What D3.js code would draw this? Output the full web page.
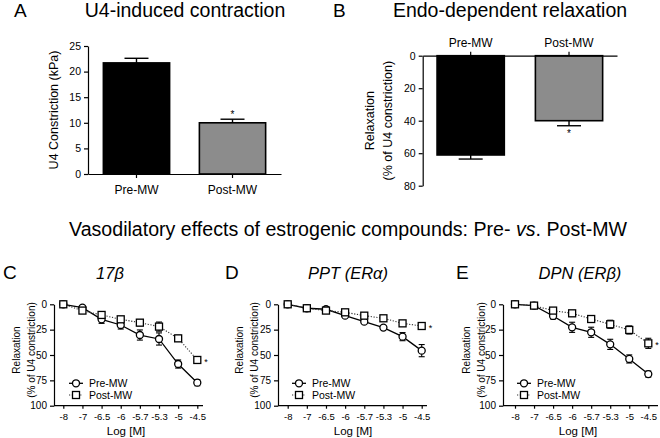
<!DOCTYPE html>
<html>
<head>
<meta charset="utf-8">
<script src="https://cdn.jsdelivr.net/npm/d3@7"></script>
<style>
  body { margin: 0; background: #fff; }
  text { font-family: Arial, Helvetica, "Liberation Sans", sans-serif; fill: #000; }
  .axis path, .axis line { stroke: #000; stroke-width: 1.2; }
</style>
</head>
<body>
<div id="chart"></div>
<script>
// bar panels
var groups = ["Pre-MW", "Post-MW"];
var contractionMean = [21.7, 10.0];
var contractionSem = [0.9, 0.7];
var relaxMean = [61.1, 40.0];
var relaxSem = [2.5, 3.1];

// concentration-response panels
var doses = ["-8", "-7", "-6.5", "-6", "-5.7", "-5.3", "-5", "-4.5"];
var relaxTicks = [0, 25, 50, 75, 100];
var e2Pre = [0, 3.3, 14.8, 20.4, 30.3, 34.2, 58.9, 77.3];
var e2PreErr = [0.5, 1.5, 4, 4, 5, 6, 4, 3];
var e2Post = [0, 6.2, 10.5, 14.8, 18.1, 22.0, 33.6, 54.9];
var e2PostErr = [0.5, 2, 2, 2, 3, 4.5, 3, 3];
var pptPre = [0, 3.9, 4.9, 11.2, 17.1, 23.0, 31.9, 45.7];
var pptPreErr = [0.5, 1, 1.5, 1.5, 1.5, 1.5, 4, 6];
var pptPost = [0, 3.9, 6.2, 7.9, 11.2, 13.8, 18.8, 21.4];
var pptPostErr = [0.5, 1, 1.5, 1.5, 1.5, 1.5, 2, 2.5];
var dpnPre = [0, 1.3, 11.5, 22.7, 27.6, 39.5, 53.9, 68.8];
var dpnPreErr = [0.5, 1, 3, 5, 5, 5, 4, 3];
var dpnPost = [0, 1.3, 6.2, 8.9, 14.5, 19.7, 25.3, 38.5];
var dpnPostErr = [0.5, 1, 2, 2, 3, 4, 4, 5];

var svg = d3.select("#chart").append("svg")
  .attr("width", 660)
  .attr("height", 438);

var barFill = ["#000", "#8c8c8c"];

// ---------- Panel A ----------
var yA = d3.scaleLinear().domain([0, 25]).range([174, 46]);
var xA = d3.scaleBand().domain(groups).range([88, 281]).paddingInner(0.31).paddingOuter(0.16);

svg.append("text").attr("x", 14).attr("y", 17).style("font-size", "19px").text("A");
svg.append("text").attr("x", 185).attr("y", 17).attr("text-anchor", "middle")
  .style("font-size", "19.5px").text("U4-induced contraction");

svg.selectAll(".barA")
  .data(groups)
  .enter()
  .append("rect")
  .attr("x", function(d) { return xA(d); })
  .attr("width", xA.bandwidth())
  .attr("y", function(d, i) { return yA(contractionMean[i]); })
  .attr("height", function(d, i) { return yA(0) - yA(contractionMean[i]); })
  .attr("fill", function(d, i) { return barFill[i]; })
  .attr("stroke", "#000")
  .attr("stroke-width", 1.6);

groups.forEach(function(g, i) {
  var cx = xA(g) + xA.bandwidth() / 2;
  var top = yA(contractionMean[i] + contractionSem[i]);
  svg.append("line").attr("x1", cx).attr("x2", cx)
    .attr("y1", yA(contractionMean[i])).attr("y2", top)
    .attr("stroke", "#000").attr("stroke-width", 1.4);
  svg.append("line").attr("x1", cx - 12).attr("x2", cx + 12)
    .attr("y1", top).attr("y2", top)
    .attr("stroke", "#000").attr("stroke-width", 1.4);
});
svg.append("text").attr("x", xA("Post-MW") + xA.bandwidth() / 2).attr("y", 117.5)
  .attr("text-anchor", "middle").style("font-size", "10px").text("*");

svg.append("g").attr("class", "axis")
  .attr("transform", "translate(88,0)")
  .call(d3.axisLeft(yA).tickValues([0, 5, 10, 15, 20, 25]).tickSize(4).tickSizeOuter(0).tickPadding(3))
  .selectAll("text").style("font-size", "10.5px");

svg.append("g").attr("class", "axis")
  .attr("transform", "translate(0,174)")
  .call(d3.axisBottom(xA).tickSize(4).tickSizeOuter(0).tickPadding(7.5))
  .selectAll("text").style("font-size", "12px");

svg.append("text")
  .attr("transform", "translate(57.5,110) rotate(-90)")
  .attr("text-anchor", "middle")
  .style("font-size", "12.5px")
  .text("U4 Constriction (kPa)");

// ---------- Panel B ----------
var yB = d3.scaleLinear().domain([0, 80]).range([55.7, 185.7]);
var xB = d3.scaleBand().domain(groups).range([422.7, 617]).paddingInner(0.316).paddingOuter(0.146);

svg.append("text").attr("x", 333).attr("y", 17).style("font-size", "19px").text("B");
svg.append("text").attr("x", 510).attr("y", 17).attr("text-anchor", "middle")
  .style("font-size", "19.5px").text("Endo-dependent relaxation");

svg.selectAll(".barB")
  .data(groups)
  .enter()
  .append("rect")
  .attr("x", function(d) { return xB(d); })
  .attr("width", xB.bandwidth())
  .attr("y", yB(0))
  .attr("height", function(d, i) { return yB(relaxMean[i]) - yB(0); })
  .attr("fill", function(d, i) { return barFill[i]; })
  .attr("stroke", "#000")
  .attr("stroke-width", 1.6);

groups.forEach(function(g, i) {
  var cx = xB(g) + xB.bandwidth() / 2;
  var bot = yB(relaxMean[i] + relaxSem[i]);
  svg.append("line").attr("x1", cx).attr("x2", cx)
    .attr("y1", yB(relaxMean[i])).attr("y2", bot)
    .attr("stroke", "#000").attr("stroke-width", 1.4);
  svg.append("line").attr("x1", cx - 12).attr("x2", cx + 12)
    .attr("y1", bot).attr("y2", bot)
    .attr("stroke", "#000").attr("stroke-width", 1.4);
});
svg.append("text").attr("x", xB("Post-MW") + xB.bandwidth() / 2).attr("y", 137)
  .attr("text-anchor", "middle").style("font-size", "10px").text("*");

svg.append("g").attr("class", "axis")
  .attr("transform", "translate(422.7,0)")
  .call(d3.axisLeft(yB).tickValues([0, 20, 40, 60, 80]).tickSize(4).tickSizeOuter(0).tickPadding(3))
  .selectAll("text").style("font-size", "10.5px");

svg.append("g").attr("class", "axis")
  .attr("transform", "translate(0,55.7)")
  .call(d3.axisTop(xB).tickSize(4).tickSizeOuter(0).tickPadding(5))
  .selectAll("text").style("font-size", "12px");

var labB = svg.append("text")
  .attr("transform", "translate(374.4,120.7) rotate(-90)")
  .attr("text-anchor", "middle")
  .style("font-size", "12.5px");
labB.append("tspan").attr("x", 0).attr("dy", 0).text("Relaxation");
labB.append("tspan").attr("x", 0).attr("dy", 18).text("(% of U4 constriction)");

// ---------- middle title ----------
svg.append("text").attr("x", 348).attr("y", 236).attr("text-anchor", "middle")
  .style("font-size", "19.6px")
  .html('Vasodilatory effects of estrogenic compounds: Pre- <tspan font-style="italic">vs</tspan>. Post-MW');

// ---------- Panels C, D, E ----------
var panels = [
  { letter: "C", lx: 3, title: "17\u03B2", tx: 110, ax: 54, axEnd: 203, range: [63.3, 197.3],
    lab: [16, 31], legX: 76, logX: 126, pre: e2Pre, preErr: e2PreErr, post: e2Post, postErr: e2PostErr },
  { letter: "D", lx: 225, title: "PPT (ER\u03B1)", tx: 348, ax: 278, axEnd: 427, range: [287.7, 421.7],
    lab: [239, 254], legX: 299, logX: 353, pre: pptPre, preErr: pptPreErr, post: pptPost, postErr: pptPostErr },
  { letter: "E", lx: 456, title: "DPN (ER\u03B2)", tx: 580, ax: 503, axEnd: 658, range: [515, 648.3],
    lab: [466, 481], legX: 524, logX: 578, pre: dpnPre, preErr: dpnPreErr, post: dpnPost, postErr: dpnPostErr }
];

var yC = d3.scaleLinear().domain([0, 100]).range([304.3, 405.7]);

panels.forEach(function(p) {
  var g = svg.append("g");
  var x = d3.scalePoint().domain(doses).range(p.range);

  g.append("text").attr("x", p.lx).attr("y", 279).style("font-size", "19px").text(p.letter);
  g.append("text").attr("x", p.tx).attr("y", 279).attr("text-anchor", "middle")
    .style("font-size", "16.5px").style("font-style", "italic").text(p.title);

  // axes
  g.append("g").attr("class", "axis")
    .attr("transform", "translate(" + p.ax + ",0)")
    .call(d3.axisLeft(yC).tickValues(relaxTicks).tickSize(4).tickSizeOuter(0).tickPadding(3))
    .selectAll("text").style("font-size", "10px");

  var xg = g.append("g").attr("class", "axis")
    .attr("transform", "translate(0,405.7)")
    .call(d3.axisBottom(x).tickSize(3).tickSizeOuter(0).tickPadding(5));
  xg.select(".domain").remove();
  xg.selectAll("text").style("font-size", "9.5px");
  g.append("line").attr("x1", p.ax).attr("x2", p.axEnd)
    .attr("y1", 405.7).attr("y2", 405.7)
    .attr("stroke", "#000").attr("stroke-width", 1.2);

  g.append("text").attr("x", p.logX).attr("y", 434.5).attr("text-anchor", "middle")
    .style("font-size", "11.5px").text("Log [M]");

  var lab = g.append("text")
    .attr("transform", "translate(" + (p.lab[0] + 3.5) + ",350) rotate(-90)")
    .attr("text-anchor", "middle")
    .style("font-size", "10px");
  lab.append("tspan").attr("x", 0).attr("dy", 0).text("Relaxation");
  lab.append("tspan").attr("x", 0).attr("dy", p.lab[1] - p.lab[0]).text("(% of U4 constriction)");

  // error bars
  [[p.pre, p.preErr], [p.post, p.postErr]].forEach(function(s) {
    doses.forEach(function(d, i) {
      var cx = x(d);
      var y1 = yC(Math.max(0, s[0][i] - s[1][i]));
      var y2 = yC(s[0][i] + s[1][i]);
      g.append("line").attr("x1", cx).attr("x2", cx).attr("y1", y1).attr("y2", y2)
        .attr("stroke", "#000").attr("stroke-width", 1.1);
      g.append("line").attr("x1", cx - 3).attr("x2", cx + 3).attr("y1", y1).attr("y2", y1)
        .attr("stroke", "#000").attr("stroke-width", 1.1);
      g.append("line").attr("x1", cx - 3).attr("x2", cx + 3).attr("y1", y2).attr("y2", y2)
        .attr("stroke", "#000").attr("stroke-width", 1.1);
    });
  });

  var line = function(vals) {
    return d3.line()
      .x(function(d, i) { return x(doses[i]); })
      .y(function(d) { return yC(d); })(vals);
  };

  g.append("path").attr("d", line(p.pre))
    .attr("fill", "none").attr("stroke", "#000").attr("stroke-width", 1.3);
  g.append("path").attr("d", line(p.post))
    .attr("fill", "none").attr("stroke", "#333").attr("stroke-width", 1.1)
    .attr("stroke-dasharray", "1.2,1.6");

  g.selectAll(".pre").data(p.pre).enter().append("circle")
    .attr("cx", function(d, i) { return x(doses[i]); })
    .attr("cy", function(d) { return yC(d); })
    .attr("r", 3.5)
    .attr("fill", "#fff").attr("stroke", "#000").attr("stroke-width", 1.3);

  g.selectAll(".post").data(p.post).enter().append("rect")
    .attr("x", function(d, i) { return x(doses[i]) - 3.5; })
    .attr("y", function(d) { return yC(d) - 3.5; })
    .attr("width", 7).attr("height", 7)
    .attr("fill", "#fff").attr("stroke", "#000").attr("stroke-width", 1.3);

  // significance star
  g.append("text")
    .attr("x", x(doses[doses.length - 1]) + 7)
    .attr("y", yC(p.post[p.post.length - 1]) + 5)
    .style("font-size", "9px").text("*");

  // legend
  var ly = [383.3, 395];
  g.append("line").attr("x1", p.legX - 7).attr("x2", p.legX + 7).attr("y1", ly[0]).attr("y2", ly[0])
    .attr("stroke", "#000").attr("stroke-width", 1.3);
  g.append("circle").attr("cx", p.legX).attr("cy", ly[0]).attr("r", 3.5)
    .attr("fill", "#fff").attr("stroke", "#000").attr("stroke-width", 1.3);
  g.append("text").attr("x", p.legX + 13).attr("y", ly[0] + 3.6).style("font-size", "10.5px").text("Pre-MW");

  g.append("line").attr("x1", p.legX - 7).attr("x2", p.legX + 7).attr("y1", ly[1]).attr("y2", ly[1])
    .attr("stroke", "#333").attr("stroke-width", 1.1).attr("stroke-dasharray", "1.2,1.6");
  g.append("rect").attr("x", p.legX - 3.5).attr("y", ly[1] - 3.5).attr("width", 7).attr("height", 7)
    .attr("fill", "#fff").attr("stroke", "#000").attr("stroke-width", 1.3);
  g.append("text").attr("x", p.legX + 13).attr("y", ly[1] + 3.6).style("font-size", "10.5px").text("Post-MW");
});
</script>
</body>
</html>
